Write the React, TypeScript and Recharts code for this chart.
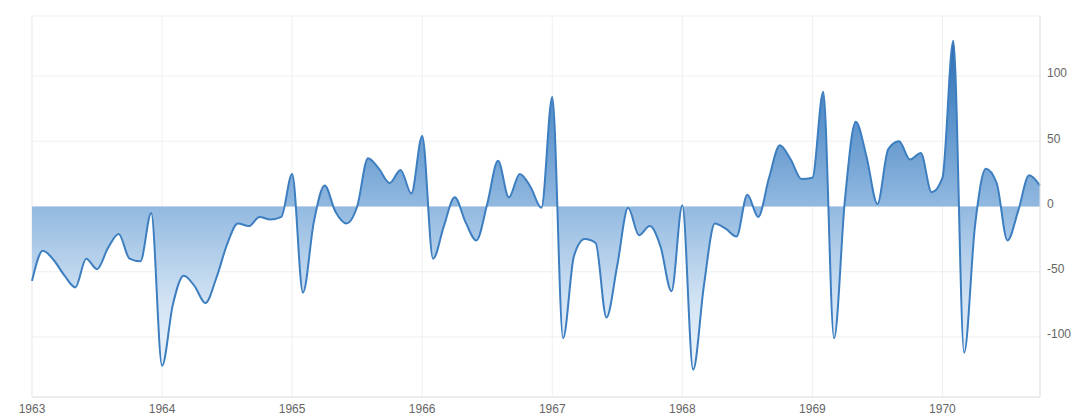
import React from "react";
import { AreaChart, Area, XAxis, YAxis, CartesianGrid } from "recharts";

const years = ["1963", "1964", "1965", "1966", "1967", "1968", "1969", "1970"];
const monthNames = ["01", "02", "03", "04", "05", "06", "07", "08", "09", "10", "11", "12"];

// Monthly values, Jan 1963 .. Oct 1970
const values = [
  -57, -34, -41, -53, -62, -40, -48, -32, -21, -40, -42, -5,
  -122, -75, -53, -61, -74, -55, -29, -13, -15, -8, -10, -8,
  25, -66, -12, 16, -4, -13, 0, 37, 29, 18, 28, 10,
  54, -40, -15, 7, -12, -26, 2, 35, 7, 25, 15, -1,
  84, -101, -38, -25, -28, -85, -45, -1, -22, -15, -31, -65,
  1, -125, -60, -13, -17, -23, 9, -8, 22, 47, 36, 21,
  22, 88, -101, 5, 65, 38, 2, 44, 50, 36, 41, 11,
  22, 127, -112, -15, 29, 18, -26, -3, 24, 16,
];

const months: string[] = [];
years.forEach((y) => monthNames.forEach((m) => months.push(`${y}-${m}`)));
const categories = months.slice(0, values.length);

const yTicks = [-100, -50, 0, 50, 100];
const xTicks = years.map((y) => `${y}-01`);

const data = categories.map((month, i) => ({ month, value: values[i] }));

const W = 1080;
const H = 411;
const MARGIN = { top: 8, right: 0, bottom: 0, left: 24 };
const X_AXIS_H = 22;
const Y_AXIS_W = 48;
const PLOT_TOP = MARGIN.top;
const PLOT_BOTTOM = H - X_AXIS_H;

const FONT = "'Liberation Sans', Arial, sans-serif";

const YTick = (props: any) => {
  const { x, y, payload } = props;
  return (
    <text
      x={x + 7}
      y={y - 3}
      dy="0.355em"
      textAnchor="start"
      fill="#666"
      fontSize={12}
      fontFamily={FONT}
    >
      {payload.value}
    </text>
  );
};

export default function App() {
  return (
    <div style={{ width: W, height: H }}>
      <AreaChart width={W} height={H} data={data} margin={MARGIN}>
        <defs>
          <linearGradient
            id="fillGrad"
            gradientUnits="userSpaceOnUse"
            x1={0}
            y1={PLOT_TOP}
            x2={0}
            y2={PLOT_BOTTOM}
          >
            <stop offset="0" stopColor="#1f5fa5" />
            <stop offset="0.2" stopColor="#4a86c4" />
            <stop offset="0.5" stopColor="#92b9e0" />
            <stop offset="0.75" stopColor="#d2e3f4" />
            <stop offset="1" stopColor="#fbfdff" />
          </linearGradient>
        </defs>
        <CartesianGrid stroke="#efefef" strokeWidth={1} />
        <XAxis
          dataKey="month"
          ticks={xTicks}
          interval={0}
          height={X_AXIS_H}
          tickLine={false}
          tickSize={0}
          tickMargin={7}
          axisLine={{ stroke: "#e2e2e2" }}
          tick={{ fill: "#666", fontSize: 12, fontFamily: FONT }}
          tickFormatter={(v: string) => v.slice(0, 4)}
        />
        <YAxis
          orientation="right"
          width={Y_AXIS_W}
          domain={[-146, 146]}
          ticks={yTicks}
          tickLine={false}
          tickSize={0}
          tickMargin={0}
          axisLine={{ stroke: "#e2e2e2" }}
          tick={<YTick />}
          allowDataOverflow
        />
        <Area
          type="monotone"
          dataKey="value"
          baseValue={0}
          stroke="#3d7ec0"
          strokeWidth={2}
          fill="url(#fillGrad)"
          fillOpacity={1}
          dot={false}
          activeDot={false}
          isAnimationActive={false}
        />
      </AreaChart>
    </div>
  );
}
